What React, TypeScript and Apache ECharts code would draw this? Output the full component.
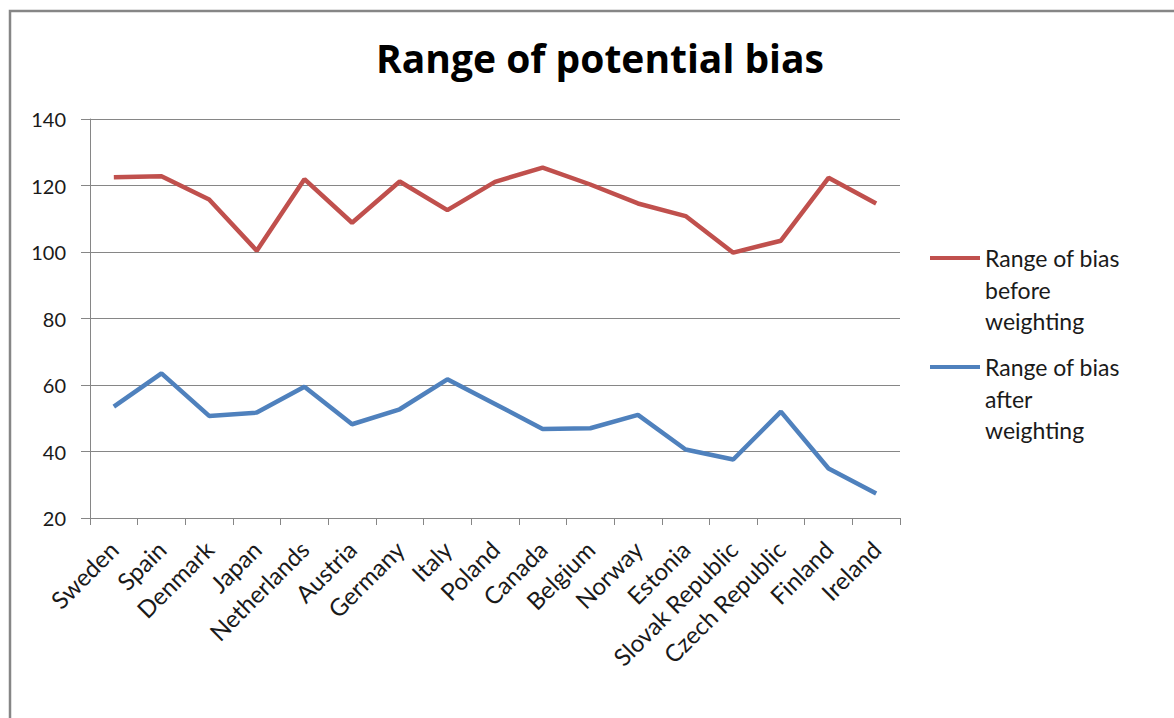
import React, { useEffect, useRef } from "react";
import * as echarts from "echarts";

const categories = [
  "Sweden", "Spain", "Denmark", "Japan", "Netherlands", "Austria", "Germany",
  "Italy", "Poland", "Canada", "Belgium", "Norway", "Estonia",
  "Slovak Republic", "Czech Republic", "Finland", "Ireland",
];
const beforeWeighting = [
  122.5, 122.8, 115.8, 100.4, 121.9, 108.8, 121.2, 112.6, 121.1, 125.4,
  120.3, 114.6, 110.8, 99.8, 103.4, 122.3, 114.6,
];
const afterWeighting = [
  53.5, 63.5, 50.7, 51.7, 59.5, 48.2, 52.7, 61.7, 54.3, 46.8,
  47.0, 51.0, 40.6, 37.6, 52.0, 34.9, 27.4,
];
const seriesNames = ["Range of bias before weighting", "Range of bias after weighting"];
const legendLabels = ["Range of bias\nbefore\nweighting", "Range of bias\nafter\nweighting"];
const titleText = "Range of potential bias";

const FONT = "Lato, 'Open Sans', sans-serif";
const RED = "#C0504D";
const BLUE = "#4F81BD";
const LH = 31.5;

export default function App() {
  const ref = useRef<HTMLDivElement>(null);
  useEffect(() => {
    if (!ref.current) return;
    const chart = echarts.init(ref.current, null, { renderer: "svg" });
    const mkLegend = (i: number, centerY: number) => ({
      orient: "vertical",
      left: 930,
      top: centerY - (LH * 5) / 2,
      data: [seriesNames[i]],
      icon: "rect",
      itemWidth: 50,
      itemHeight: 4,
      itemGap: 0,
      padding: 0,
      selectedMode: false,
      formatter: () => "\n\n" + legendLabels[i],
      textStyle: {
        fontFamily: FONT,
        fontSize: 23,
        color: "#1a1a1a",
        lineHeight: LH,
      },
    });
    chart.setOption({
      animation: false,
      backgroundColor: "#ffffff",
      title: {
        text: titleText,
        left: 595,
        textAlign: "center",
        top: 33,
        textStyle: {
          fontFamily: "'Open Sans', Lato, sans-serif",
          fontSize: 39,
          fontWeight: "bold",
          color: "#000",
        },
      },
      legend: [mkLegend(0, 258), mkLegend(1, 367)],
      graphic: [
        {
          type: "rect",
          shape: { x: 10, y: 11, width: 1300, height: 900 },
          style: { fill: "none", stroke: "#868686", lineWidth: 2.5 },
          silent: true,
        },
      ],
      grid: { left: 90, right: 274, top: 119, bottom: 200, containLabel: false },
      xAxis: {
        type: "category",
        data: categories,
        boundaryGap: true,
        axisLine: { lineStyle: { color: "#868686", width: 1 } },
        axisTick: { show: true, length: 7, lineStyle: { color: "#868686" } },
        axisLabel: {
          rotate: 45,
          interval: 0,
          margin: 27,
          fontFamily: FONT,
          fontSize: 24,
          color: "#1a1a1a",
        },
      },
      yAxis: {
        type: "value",
        min: 20,
        max: 140,
        interval: 20,
        axisLine: { show: true, lineStyle: { color: "#868686", width: 1 } },
        axisTick: { show: true, length: 9, lineStyle: { color: "#868686" } },
        splitLine: { show: true, lineStyle: { color: "#868686", width: 1 } },
        axisLabel: { margin: 24, fontFamily: FONT, fontSize: 20, color: "#1a1a1a" },
      },
      series: [
        {
          name: seriesNames[0],
          type: "line",
          data: beforeWeighting,
          symbol: "none",
          lineStyle: { color: RED, width: 4.5 },
          itemStyle: { color: RED },
        },
        {
          name: seriesNames[1],
          type: "line",
          data: afterWeighting,
          symbol: "none",
          lineStyle: { color: BLUE, width: 4.5 },
          itemStyle: { color: BLUE },
        },
      ],
    });
    return () => chart.dispose();
  }, []);
  return (
    <div
      ref={ref}
      style={{ position: "absolute", left: 0, top: 0, width: 1174, height: 718 }}
    />
  );
}
